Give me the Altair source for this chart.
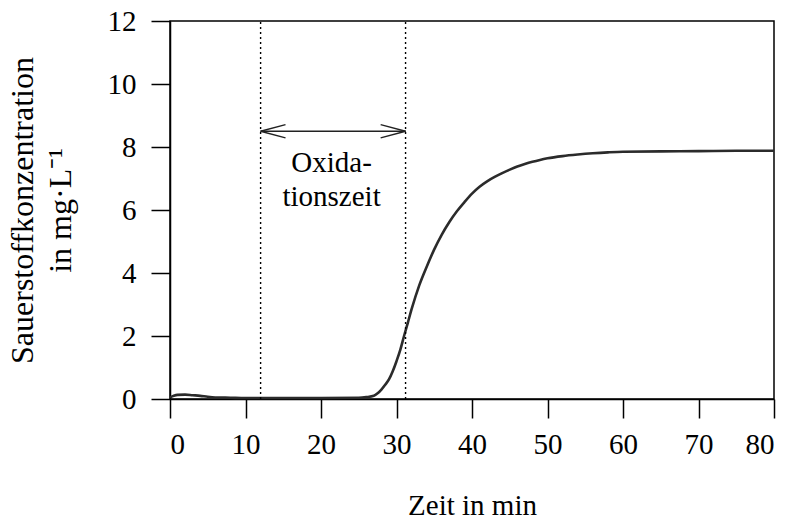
import altair as alt
import pandas as pd

# --- data ---
zeit = [0, 0.5, 1, 2, 3, 4, 5, 6, 8, 10, 15, 20, 25, 26, 27, 27.5, 28, 28.5, 29, 29.5, 30,
        30.5, 31, 31.5, 32, 33, 34, 35, 36, 37, 38, 39, 40, 41, 42, 43, 44, 45, 46, 47, 48,
        49, 50, 52, 54, 56, 58, 60, 65, 70, 75, 80]
sauerstoff = [0.05, 0.1, 0.13, 0.14, 0.12, 0.1, 0.07, 0.05, 0.04, 0.03, 0.03, 0.03, 0.04, 0.06,
              0.1, 0.18, 0.3, 0.45, 0.62, 0.88, 1.2, 1.56, 2.0, 2.42, 2.85, 3.6, 4.2, 4.75,
              5.22, 5.62, 5.96, 6.25, 6.52, 6.74, 6.91, 7.05, 7.17, 7.28, 7.38, 7.46, 7.53, 7.59,
              7.64, 7.71, 7.76, 7.8, 7.83, 7.85, 7.86, 7.87, 7.88, 7.88]

marker_x = [12, 31.2]          # dotted vertical lines (Oxidationszeit)
marker_top = 12
arrow_y = 8.5
arrow_head_dx = 3.3
arrow_head_dy = 0.21
label_lines = ["Oxida-", "tionszeit"]
label_x = 21.4
label_y = [7.5, 6.4]

x_ticks = list(range(0, 81, 5))
y_ticks = list(range(0, 13, 1))

FONT = "Liberation Serif"
FS = 29

df = pd.DataFrame({"t": zeit, "o2": sauerstoff})
markers = pd.DataFrame({"x": marker_x, "y0": [0, 0], "y1": [marker_top, marker_top]})
a0, a1 = marker_x
arrow = pd.DataFrame({
    "x": [a0, a0, a0, a1, a1],
    "x2": [a1, a0 + arrow_head_dx, a0 + arrow_head_dx, a1 - arrow_head_dx, a1 - arrow_head_dx],
    "y": [arrow_y] * 5,
    "y2": [arrow_y, arrow_y + arrow_head_dy, arrow_y - arrow_head_dy,
           arrow_y + arrow_head_dy, arrow_y - arrow_head_dy],
})
labels = pd.DataFrame({"x": [label_x] * 2, "y": label_y, "text": label_lines})

xscale = alt.Scale(domain=[0, 80], nice=False, zero=False)
yscale = alt.Scale(domain=[0, 12], nice=False, zero=False)

xaxis = alt.Axis(
    values=x_ticks,
    tickSize={"condition": {"test": "datum.value % 10 === 0", "value": 19}, "value": 11},
    labelExpr="datum.value % 10 === 0 ? datum.label : ''",
    labelPadding=12,
    title="Zeit in min",
    titlePadding=32,
    grid=False,
)
yaxis = alt.Axis(
    values=y_ticks,
    tickSize={"condition": {"test": "datum.value % 2 === 0", "value": 19}, "value": 10},
    labelExpr="datum.value % 2 === 0 ? datum.label : ''",
    labelPadding=15,
    title=["Sauerstoffkonzentration", "in mg·L⁻¹"],
    titleFontSize=32,
    titleLineHeight=38,
    titlePadding=30,
    grid=False,
)

line = alt.Chart(df).mark_line(color="#2b2b2b", strokeWidth=2.6, interpolate="monotone").encode(
    x=alt.X("t:Q", scale=xscale, axis=xaxis),
    y=alt.Y("o2:Q", scale=yscale, axis=yaxis),
)

dotted = alt.Chart(markers).mark_rule(color="black", strokeWidth=1.4, strokeDash=[2, 3]).encode(
    x="x:Q", y="y0:Q", y2="y1:Q"
)

arrows = alt.Chart(arrow).mark_rule(color="#222", strokeWidth=1.4).encode(
    x="x:Q", x2="x2:Q", y="y:Q", y2="y2:Q"
)

text = alt.Chart(labels).mark_text(font=FONT, fontSize=FS, color="black").encode(
    x="x:Q", y="y:Q", text="text:N"
)

chart = alt.layer(line, dotted, arrows, text).properties(
    width=604, height=378,
    padding={"left": 170, "top": 21, "right": 17, "bottom": 125},
    autosize=alt.AutoSizeParams(type="none"),
    background="white",
).configure_view(
    stroke="black", strokeWidth=1.5
).configure_axis(
    domainColor="black", domainWidth=1.5, tickColor="black", tickWidth=1.5,
    labelFont=FONT, labelFontSize=FS, labelColor="black",
    titleFont=FONT, titleFontSize=FS, titleColor="black", titleFontWeight="normal",
)

chart.save("out.html", embed_options={"renderer": "svg", "actions": False})
